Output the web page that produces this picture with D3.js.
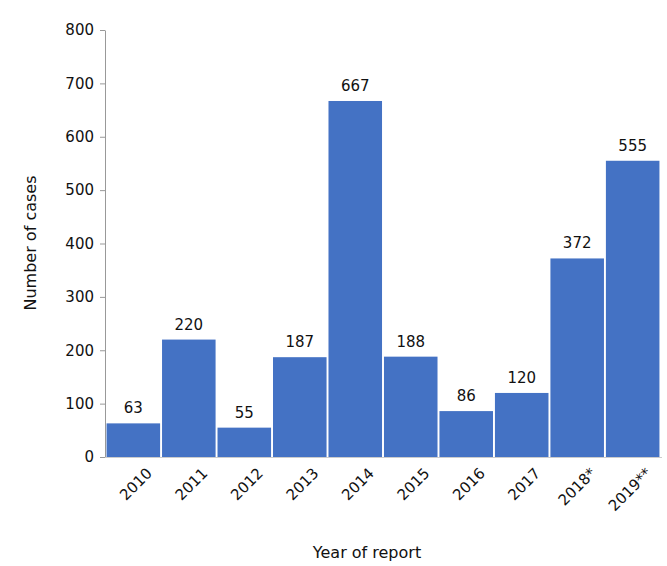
<!DOCTYPE html>
<html><head><meta charset="utf-8">
<script src="https://cdn.jsdelivr.net/npm/d3@7"></script>
<style>body{margin:0;background:#fff}text{font-family:"DejaVu Sans",Verdana,sans-serif}</style>
</head><body><svg id="c" width="667" height="566"></svg>
<script>
// cases per reporting year
var years = ['2010','2011','2012','2013','2014','2015','2016','2017','2018*','2019**'];
var cases = [63, 220, 55, 187, 667, 188, 86, 120, 372, 555];
var yTicks = [0,100,200,300,400,500,600,700,800];

var svg = d3.select('#c');
var x = d3.scaleBand().domain(years).range([106, 660]).paddingInner(0.035).paddingOuter(0.01);
var y = d3.scaleLinear().domain([0, 800]).range([457, 30]);

svg.selectAll('rect.bar').data(years).enter().append('rect')
  .attr('x', function(d){ return x(d); })
  .attr('width', x.bandwidth())
  .attr('y', function(d, i){ return y(cases[i]); })
  .attr('height', function(d, i){ return y(0) - y(cases[i]); })
  .attr('fill', '#4472c4');

svg.selectAll('text.val').data(years).enter().append('text')
  .attr('x', function(d){ return x(d) + x.bandwidth()/2; })
  .attr('y', function(d, i){ return y(cases[i]) - 10; })
  .attr('text-anchor', 'middle').attr('font-size', 15).attr('fill', '#111')
  .text(function(d, i){ return cases[i]; });

var ya = svg.append('g').attr('transform', 'translate(105,0)')
  .call(d3.axisLeft(y).tickValues(yTicks).tickSize(5).tickPadding(6).tickSizeOuter(0));
ya.select('.domain').attr('stroke', '#999');
ya.selectAll('line').attr('stroke', '#999');
ya.selectAll('text').attr('font-size', 15).attr('fill', '#111').attr('font-family', 'DejaVu Sans');

svg.append('line').attr('x1', 105).attr('x2', 662).attr('y1', 457.5).attr('y2', 457.5).attr('stroke', '#ccc');

var xa = svg.append('g').attr('transform', 'translate(0,457)')
  .call(d3.axisBottom(x).tickSize(0));
xa.select('.domain').remove();
xa.selectAll('text').attr('font-size', 15).attr('fill', '#111').attr('font-family', 'DejaVu Sans')
  .attr('text-anchor', 'end').attr('dx', '0.3em').attr('dy', '0.6em')
  .attr('transform', 'translate(8,12) rotate(-45)');

svg.append('text').attr('x', 367).attr('y', 558).attr('text-anchor', 'middle')
  .attr('font-size', 16).attr('fill', '#111').text('Year of report');
svg.append('text').attr('transform', 'translate(36,243) rotate(-90)').attr('text-anchor', 'middle')
  .attr('font-size', 16).attr('fill', '#111').text('Number of cases');
</script></body></html>
